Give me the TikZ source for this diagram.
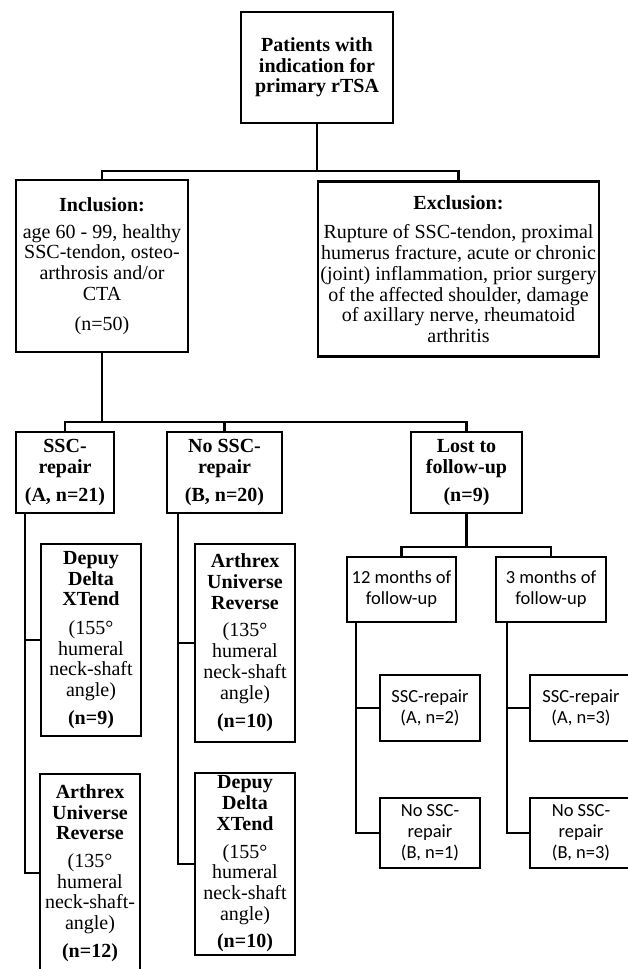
\documentclass[tikz,border=0pt]{standalone}
\usepackage{fontspec}
\setmainfont{Liberation Serif}
\newfontfamily\carlfont{Carlito}
\begin{document}
\begin{tikzpicture}[x=1pt,y=1pt,
  box/.style={draw,line width=2.2pt,rectangle,inner sep=0pt,align=center,font=\fontsize{20}{20.7}\selectfont},
  cbox/.style={draw,line width=2.2pt,rectangle,inner sep=0pt,align=center,font=\carlfont\fontsize{18.5}{21}\selectfont},
  conn/.style={line width=2.5pt}]
\useasboundingbox (0,0) rectangle (628,-969);
% boxes
\node[box,minimum width=152,minimum height=111] (top) at (317,-67.5) {\textbf{Patients with}\\\textbf{indication for}\\\textbf{primary rTSA}};
\node[box,minimum width=172,minimum height=172] (incl) at (102,-266) {\textbf{Inclusion:}\\[6pt]age 60 - 99, healthy\\SSC-tendon, osteo-\\arthrosis and/or\\CTA\\[9pt](n=50)};
\node[box,minimum width=281,minimum height=175] (excl) at (458.5,-269) {\textbf{Exclusion:}\\[9pt]Rupture of SSC-tendon, proximal\\humerus fracture, acute or chronic\\(joint) inflammation, prior surgery\\of the affected shoulder, damage\\of axillary nerve, rheumatoid\\arthritis};
\node[box,minimum width=98,minimum height=81] (ssc) at (65,-472.5) {\textbf{SSC-}\\\textbf{repair}\\[7pt]\textbf{(A, n=21)}};
\node[box,minimum width=115,minimum height=81] (nossc) at (224.5,-472.5) {\textbf{No SSC-}\\\textbf{repair}\\[7pt]\textbf{(B, n=20)}};
\node[box,minimum width=111,minimum height=81] (lost) at (466.5,-472.5) {\textbf{Lost to}\\\textbf{follow-up}\\[7pt]\textbf{(n=9)}};
\node[cbox,minimum width=109,minimum height=65] (m12) at (401.5,-589.5) {12 months of\\follow-up};
\node[cbox,minimum width=110,minimum height=65] (m3) at (551,-589.5) {3 months of\\follow-up};
\node[cbox,minimum width=100,minimum height=66] (a2) at (430,-708) {SSC-repair\\(A, n=2)};
\node[cbox,minimum width=100,minimum height=70] (b1) at (430,-833) {No SSC-\\repair\\(B, n=1)};
\node[cbox,minimum width=102,minimum height=66] (a3) at (581,-708) {SSC-repair\\(A, n=3)};
\node[cbox,minimum width=102,minimum height=70] (b3) at (581,-833) {No SSC-\\repair\\(B, n=3)};
\node[box,minimum width=100,minimum height=192] (dep1) at (91,-640) {\textbf{Depuy}\\\textbf{Delta}\\\textbf{XTend}\\[8pt](155°\\humeral\\neck-shaft\\angle)\\[7pt]\textbf{(n=9)}};
\node[box,minimum width=100,minimum height=198] (arx1) at (90,-873) {\textbf{Arthrex}\\\textbf{Universe}\\\textbf{Reverse}\\[7pt](135°\\humeral\\neck-shaft-\\angle)\\[7pt]\textbf{(n=12)}};
\node[box,minimum width=100,minimum height=198] (arx2) at (245,-643) {\textbf{Arthrex}\\\textbf{Universe}\\\textbf{Reverse}\\[7pt](135°\\humeral\\neck-shaft\\angle)\\[8pt]\textbf{(n=10)}};
\node[box,minimum width=100,minimum height=182] (dep2) at (245,-864) {\textbf{Depuy}\\\textbf{Delta}\\\textbf{XTend}\\[7pt](155°\\humeral\\neck-shaft\\angle)\\[7pt]\textbf{(n=10)}};
% junctions
\coordinate (j1) at (317,-171);
\coordinate (j2) at (102,-422);
\coordinate (j3) at (466.5,-547);
\coordinate (s1) at ([xshift=10pt]ssc.south west);
\coordinate (s2) at ([xshift=12pt]nossc.south west);
\coordinate (s3) at ([xshift=10pt]m12.south west);
\coordinate (s4) at ([xshift=12pt]m3.south west);
% connectors
\draw[conn] (top.south) -- (j1);
\draw[conn] (incl.north) |- (j1) -| (excl.north);
\draw[conn] (incl.south) -- (j2);
\draw[conn] (ssc.north) |- (j2) -| (lost.north);
\draw[conn] (nossc.north) -- (nossc.north |- j2);
\draw[conn] (lost.south) -- (j3);
\draw[conn] (m12.north) |- (j3) -| (m3.north);
\draw[conn] (dep1.west) -| (s1);
\draw[conn] (s1) |- (arx1.west);
\draw[conn] (arx2.west) -| (s2);
\draw[conn] (s2) |- (dep2.west);
\draw[conn] (a2.west) -| (s3);
\draw[conn] (s3) |- (b1.west);
\draw[conn] (a3.west) -| (s4);
\draw[conn] (s4) |- (b3.west);
\end{tikzpicture}
\end{document}
